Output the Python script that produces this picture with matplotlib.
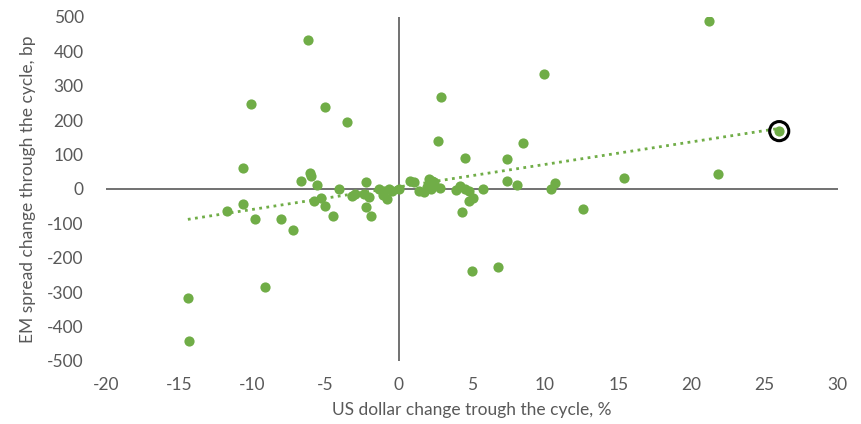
import matplotlib.pyplot as plt
import numpy as np

# US dollar change (%) and EM spread change (bp)
usd_change = [
    21.2, -6.2, -10.1, -5.05, -3.55, 2.9, 9.9, 2.7, 8.5, 4.5,
    7.4, 26.0, 21.8, 15.4, -10.6, -6.05, -6.0, -6.7, -5.6, -11.75,
    -10.65, -9.8, -8.05, -7.25, -5.8, -5.3, -5.0, -4.5, -4.1, -3.2,
    -3.0, -9.15, -14.4, -14.3, 6.8, 5.0, 12.6, 7.4, 8.1, 10.4,
    10.7, 5.76, 4.3, 4.8, 5.1, 3.9, 4.2, 4.5, 4.8, 2.8,
    0.77, 1.05, 2.07, 2.3, 2.4, 1.4, 1.7, 1.96, 2.2, 0.0,
    -2.25, -2.4, -2.0, -2.2, -1.9, -1.35, -1.0, -0.66, -0.43, -1.1,
    -0.77,
]
spread_change = [
    487, 432, 246, 238, 194, 267, 333, 139, 133, 90,
    87, 168, 43, 32, 61, 45, 37, 23, 12, -63,
    -43, -89, -89, -119, -34, -27, -51, -80, 0, -21,
    -14, -284, -316, -441, -226, -238, -58, 22, 12, 0,
    17, 0, -66, -34, -26, -2, 7, 0, -5, 2,
    24, 21, 29, 24, 19, -5, -10, 5, 0, 0,
    19, -14, -24, -53, -79, 0, -5, 0, -5, -19,
    -29,
]
# current cycle, circled on the chart
current_x = 26.0
current_y = 168

x_ticks = [-20, -15, -10, -5, 0, 5, 10, 15, 20, 25, 30]
y_ticks = [-500, -400, -300, -200, -100, 0, 100, 200, 300, 400, 500]

green = '#70AD47'
grey = '#595959'

plt.rcParams['font.family'] = ['Lato', 'DejaVu Sans']
plt.rcParams['axes.unicode_minus'] = False

fig = plt.figure(figsize=(8.61, 4.24), dpi=100)
ax = fig.add_axes([0.123, 0.149, 0.850, 0.811])

ax.scatter(usd_change, spread_change, s=54, color=green, zorder=3, linewidths=0)

# linear trend line
x = np.array(usd_change)
y = np.array(spread_change)
slope, intercept = np.polyfit(x, y, 1)
xs = np.array([x.min(), x.max()])
ax.plot(xs, slope * xs + intercept, color=green, lw=2, linestyle=(0, (1, 1.6)), zorder=2)

ax.scatter([current_x], [current_y], s=190, facecolors='none', edgecolors='black',
           linewidths=2.2, zorder=4)

ax.axhline(0, color=grey, lw=1.2, zorder=1)
ax.axvline(0, color=grey, lw=1.2, zorder=1)

ax.set_xlim(-20, 30)
ax.set_ylim(-500, 500)
ax.set_xticks(x_ticks)
ax.set_yticks(y_ticks)
for s in ax.spines.values():
    s.set_visible(False)
ax.tick_params(length=0, labelsize=12.5, colors=grey)
ax.tick_params(axis='y', pad=16)
ax.tick_params(axis='x', pad=12)

ax.set_xlabel('US dollar change trough the cycle, %', fontsize=12.5, color=grey, labelpad=6)
ax.set_ylabel('EM spread change through the cycle, bp', fontsize=12.5, color=grey, labelpad=8)

fig.savefig('out.png', dpi=100)
